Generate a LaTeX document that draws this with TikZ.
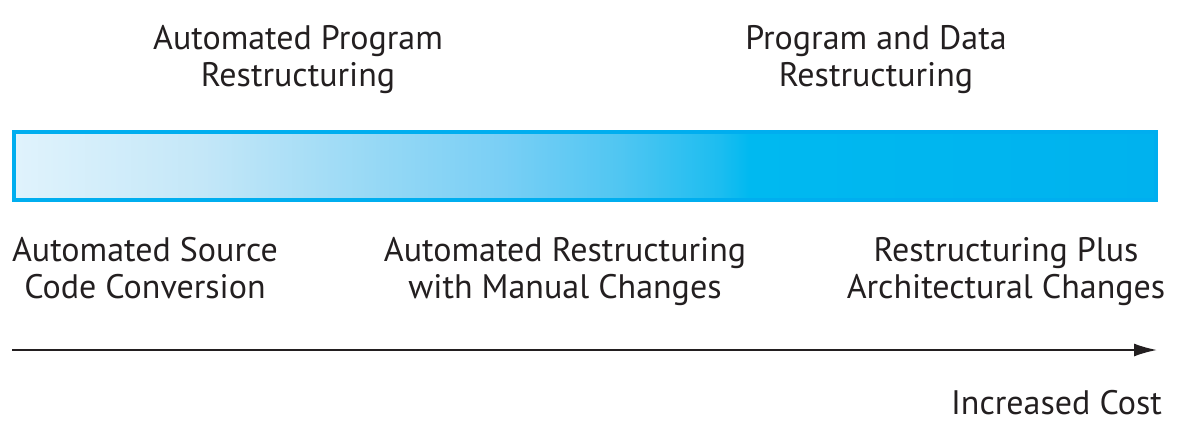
\documentclass[tikz,border=0pt]{standalone}
\usepackage{fontspec}
\setmainfont{PT Sans}
\usetikzlibrary{arrows.meta}

\definecolor{ink}{HTML}{231F20}
\definecolor{barblue}{HTML}{00AEEF}
\definecolor{fadeA}{HTML}{E0F3FC}
\definecolor{fadeB}{HTML}{C4E7F8}
\definecolor{fadeC}{HTML}{95D8F5}
\definecolor{fadeD}{HTML}{7ACFF5}
\definecolor{fadeE}{HTML}{50C6F2}
\definecolor{fadeF}{HTML}{1CBDF0}
\definecolor{fadeG}{HTML}{00B9F0}
\definecolor{fadeH}{HTML}{00B2EE}

% light-to-cyan fade; the path is fitted to the 25bp--75bp band
\pgfdeclarehorizontalshading{barfade}{100bp}{%
  color(0bp)=(fadeA); color(25bp)=(fadeA); color(33.2bp)=(fadeB);
  color(41.1bp)=(fadeC); color(46.3bp)=(fadeD); color(51.5bp)=(fadeE);
  color(55.9bp)=(fadeF); color(57.2bp)=(fadeG); color(75bp)=(fadeH);
  color(100bp)=(fadeH)}

% anchor=base sits on the baseline of a label's last line
\tikzset{
  label text/.style={text=ink, align=center, inner sep=0pt,
    font=\fontsize{34}{37}\selectfont, anchor=base},
}

\begin{document}
\begin{tikzpicture}[x=1pt, y=-1pt]
  \useasboundingbox (0,0) rectangle (1183,447);

  % upper labels
  \node[label text] (apr) at (298,86) {Automated Program\\Restructuring};
  \node[label text] (pdr) at (876,86) {Program and Data\\Restructuring};

  % the shaded bar
  \node[draw=barblue, line width=4pt, shading=barfade, outer sep=0pt,
        inner sep=0pt, minimum width=1142pt, minimum height=67.5pt]
        (bar) at (585,165.75) {};

  % lower labels
  \node[label text] (asc) at (145,298) {Automated Source\\Code Conversion};
  \node[label text] (arm) at (565,298) {Automated Restructuring\\with Manual Changes};
  \node[label text] (rpa) at (1006,298) {Restructuring Plus\\Architectural Changes};

  % cost axis
  \coordinate (axisL) at (12,350);
  \coordinate (axisR) at (1157,350);
  \draw[ink, line width=1.8pt, -{Latex[length=23pt, width=13pt]}] (axisL) -- (axisR);
  \node[label text, anchor=base east] (cost) at (1162,414) {Increased Cost};
\end{tikzpicture}
\end{document}
